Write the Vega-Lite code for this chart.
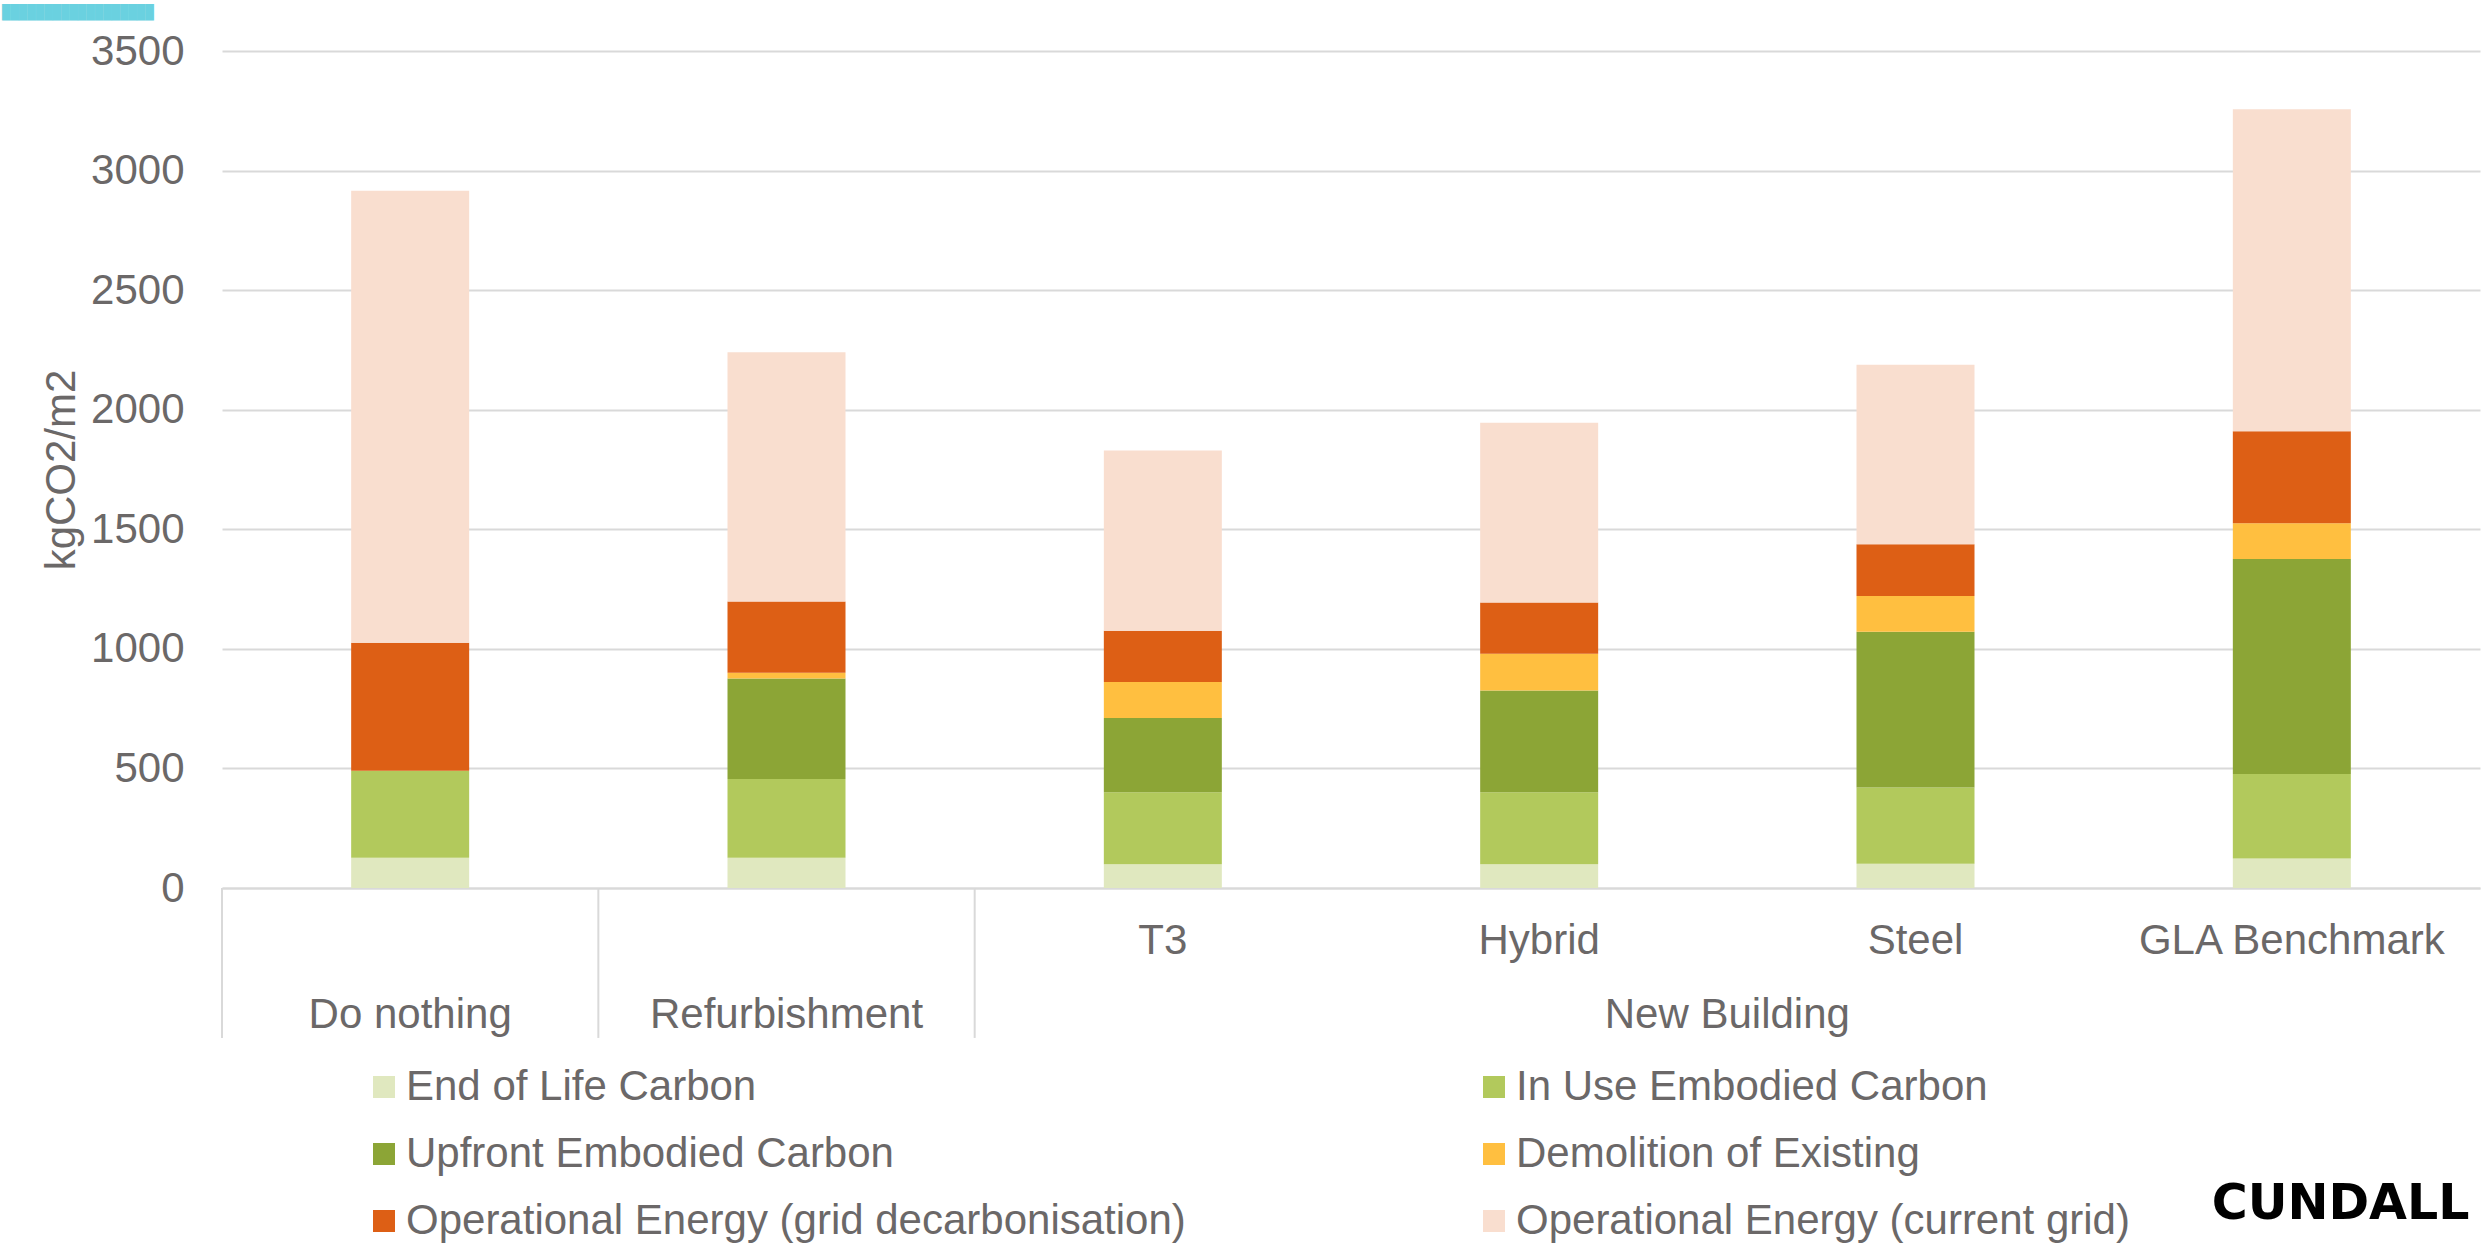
{
  "$schema": "https://vega.github.io/schema/vega-lite/v6.json",
  "width": 2258,
  "height": 837,
  "autosize": {"type": "none"},
  "padding": {"left": 222, "top": 51, "right": 4, "bottom": 358},
  "background": "white",
  "title": {
    "text": "██████████████████",
    "anchor": "start",
    "frame": "group",
    "orient": "top",
    "font": "DejaVu Sans Mono",
    "fontSize": 14,
    "fontWeight": "normal",
    "color": "#6AD1E0",
    "dx": -220,
    "offset": -4,
    "baseline": "bottom"
  },
  "config": {"view": {"stroke": null}, "font": "Liberation Sans"},
  "datasets": {
    "bars": [
      {"scenario": "Do nothing", "component": "End of Life Carbon", "k": 1, "value": 126},
      {"scenario": "Do nothing", "component": "In Use Embodied Carbon", "k": 2, "value": 364},
      {"scenario": "Do nothing", "component": "Operational Energy (grid decarbonisation)", "k": 5, "value": 536},
      {"scenario": "Do nothing", "component": "Operational Energy (current grid)", "k": 6, "value": 1890},
      {"scenario": "Refurbishment", "component": "End of Life Carbon", "k": 1, "value": 126},
      {"scenario": "Refurbishment", "component": "In Use Embodied Carbon", "k": 2, "value": 330},
      {"scenario": "Refurbishment", "component": "Upfront Embodied Carbon", "k": 3, "value": 420},
      {"scenario": "Refurbishment", "component": "Demolition of Existing", "k": 4, "value": 24},
      {"scenario": "Refurbishment", "component": "Operational Energy (grid decarbonisation)", "k": 5, "value": 298},
      {"scenario": "Refurbishment", "component": "Operational Energy (current grid)", "k": 6, "value": 1042},
      {"scenario": "T3", "component": "End of Life Carbon", "k": 1, "value": 99},
      {"scenario": "T3", "component": "In Use Embodied Carbon", "k": 2, "value": 301},
      {"scenario": "T3", "component": "Upfront Embodied Carbon", "k": 3, "value": 311},
      {"scenario": "T3", "component": "Demolition of Existing", "k": 4, "value": 150},
      {"scenario": "T3", "component": "Operational Energy (grid decarbonisation)", "k": 5, "value": 215},
      {"scenario": "T3", "component": "Operational Energy (current grid)", "k": 6, "value": 753},
      {"scenario": "Hybrid", "component": "End of Life Carbon", "k": 1, "value": 99},
      {"scenario": "Hybrid", "component": "In Use Embodied Carbon", "k": 2, "value": 301},
      {"scenario": "Hybrid", "component": "Upfront Embodied Carbon", "k": 3, "value": 426},
      {"scenario": "Hybrid", "component": "Demolition of Existing", "k": 4, "value": 154},
      {"scenario": "Hybrid", "component": "Operational Energy (grid decarbonisation)", "k": 5, "value": 214},
      {"scenario": "Hybrid", "component": "Operational Energy (current grid)", "k": 6, "value": 752},
      {"scenario": "Steel", "component": "End of Life Carbon", "k": 1, "value": 101},
      {"scenario": "Steel", "component": "In Use Embodied Carbon", "k": 2, "value": 319},
      {"scenario": "Steel", "component": "Upfront Embodied Carbon", "k": 3, "value": 652},
      {"scenario": "Steel", "component": "Demolition of Existing", "k": 4, "value": 149},
      {"scenario": "Steel", "component": "Operational Energy (grid decarbonisation)", "k": 5, "value": 216},
      {"scenario": "Steel", "component": "Operational Energy (current grid)", "k": 6, "value": 751},
      {"scenario": "GLA Benchmark", "component": "End of Life Carbon", "k": 1, "value": 123},
      {"scenario": "GLA Benchmark", "component": "In Use Embodied Carbon", "k": 2, "value": 354},
      {"scenario": "GLA Benchmark", "component": "Upfront Embodied Carbon", "k": 3, "value": 899},
      {"scenario": "GLA Benchmark", "component": "Demolition of Existing", "k": 4, "value": 149},
      {"scenario": "GLA Benchmark", "component": "Operational Energy (grid decarbonisation)", "k": 5, "value": 385},
      {"scenario": "GLA Benchmark", "component": "Operational Energy (current grid)", "k": 6, "value": 1346}
    ],
    "dividers": [
      {"scenario": "Do nothing"},
      {"scenario": "Refurbishment"},
      {"scenario": "T3"}
    ],
    "groups": [
      {"scenario": "Do nothing", "label": "Do nothing"},
      {"scenario": "Refurbishment", "label": "Refurbishment"}
    ],
    "newbuild": [
      {"scenario": "Steel", "label": "New Building"}
    ]
  },
  "layer": [
    {
      "data": {"name": "bars"},
      "mark": {"type": "bar", "width": 118},
      "encoding": {
        "x": {
          "field": "scenario",
          "type": "nominal",
          "scale": {"domain": ["Do nothing", "Refurbishment", "T3", "Hybrid", "Steel", "GLA Benchmark"], "paddingInner": 0, "paddingOuter": 0},
          "axis": {
            "title": "CUNDALL",
            "titleFont": "DejaVu Sans",
            "titleFontWeight": "bold",
            "titleFontSize": 49,
            "titleColor": "#000000",
            "titleX": 2247,
            "titleY": 330,
            "titleAlign": "right",
            "titleBaseline": "alphabetic",
            "titleAngle": 0,
            "labelExpr": "datum.value == 'Do nothing' || datum.value == 'Refurbishment' ? '' : datum.value",
            "labelFontSize": 42,
            "labelColor": "#6B6868",
            "labelAngle": 0,
            "labelLimit": 1000,
            "labelPadding": 32,
            "ticks": false,
            "domain": true,
            "domainColor": "#D9D9D9",
            "domainWidth": 2,
            "grid": false
          }
        },
        "y": {
          "field": "value",
          "type": "quantitative",
          "stack": "zero",
          "scale": {"domain": [0, 3500], "nice": false},
          "axis": {
            "title": "kgCO2/m2",
            "titleFontSize": 42,
            "titleFontWeight": "normal",
            "titleColor": "#6B6868",
            "titlePadding": 7,
            "values": [0, 500, 1000, 1500, 2000, 2500, 3000, 3500],
            "format": "d",
            "domain": false,
            "ticks": false,
            "labelFontSize": 42,
            "labelColor": "#6B6868",
            "labelPadding": 38,
            "grid": true,
            "gridColor": "#D9D9D9",
            "gridWidth": 2
          }
        },
        "color": {
          "field": "component",
          "type": "nominal",
          "scale": {
            "domain": ["End of Life Carbon", "In Use Embodied Carbon", "Upfront Embodied Carbon", "Demolition of Existing", "Operational Energy (grid decarbonisation)", "Operational Energy (current grid)"],
            "range": ["#E0E8BF", "#B2C95C", "#8CA536", "#FFBF40", "#DD5F15", "#F9DECF"]
          },
          "legend": {
            "title": null,
            "orient": "none",
            "direction": "horizontal",
            "legendX": 141,
            "legendY": 1015,
            "columns": 2,
            "columnPadding": 287,
            "rowPadding": 25,
            "padding": 0,
            "symbolType": "square",
            "symbolSize": 484,
            "symbolStrokeWidth": 0,
            "symbolOpacity": 1,
            "labelFontSize": 42,
            "labelColor": "#6B6868",
            "labelOffset": 1,
            "labelLimit": 2000
          }
        },
        "order": {"field": "k", "type": "quantitative", "sort": "ascending"}
      }
    },
    {
      "data": {"name": "dividers"},
      "mark": {"type": "rule", "color": "#D9D9D9", "strokeWidth": 2, "clip": false},
      "encoding": {
        "x": {
          "field": "scenario",
          "type": "nominal",
          "bandPosition": 0,
          "scale": {"domain": ["Do nothing", "Refurbishment", "T3", "Hybrid", "Steel", "GLA Benchmark"], "paddingInner": 0, "paddingOuter": 0}
        },
        "y": {"datum": 0, "type": "quantitative", "scale": {"domain": [0, 3500], "nice": false}},
        "y2": {"datum": -627}
      }
    },
    {
      "data": {"name": "groups"},
      "mark": {"type": "text", "fontSize": 42, "color": "#6B6868", "baseline": "alphabetic", "align": "center", "clip": false},
      "encoding": {
        "x": {
          "field": "scenario",
          "type": "nominal",
          "scale": {"domain": ["Do nothing", "Refurbishment", "T3", "Hybrid", "Steel", "GLA Benchmark"], "paddingInner": 0, "paddingOuter": 0}
        },
        "y": {"datum": -586, "type": "quantitative", "scale": {"domain": [0, 3500], "nice": false}},
        "text": {"field": "label"}
      }
    },
    {
      "data": {"name": "newbuild"},
      "mark": {"type": "text", "fontSize": 42, "color": "#6B6868", "baseline": "alphabetic", "align": "center", "clip": false},
      "encoding": {
        "x": {
          "field": "scenario",
          "type": "nominal",
          "bandPosition": 0,
          "scale": {"domain": ["Do nothing", "Refurbishment", "T3", "Hybrid", "Steel", "GLA Benchmark"], "paddingInner": 0, "paddingOuter": 0}
        },
        "y": {"datum": -586, "type": "quantitative", "scale": {"domain": [0, 3500], "nice": false}},
        "text": {"field": "label"}
      }
    }
  ]
}
